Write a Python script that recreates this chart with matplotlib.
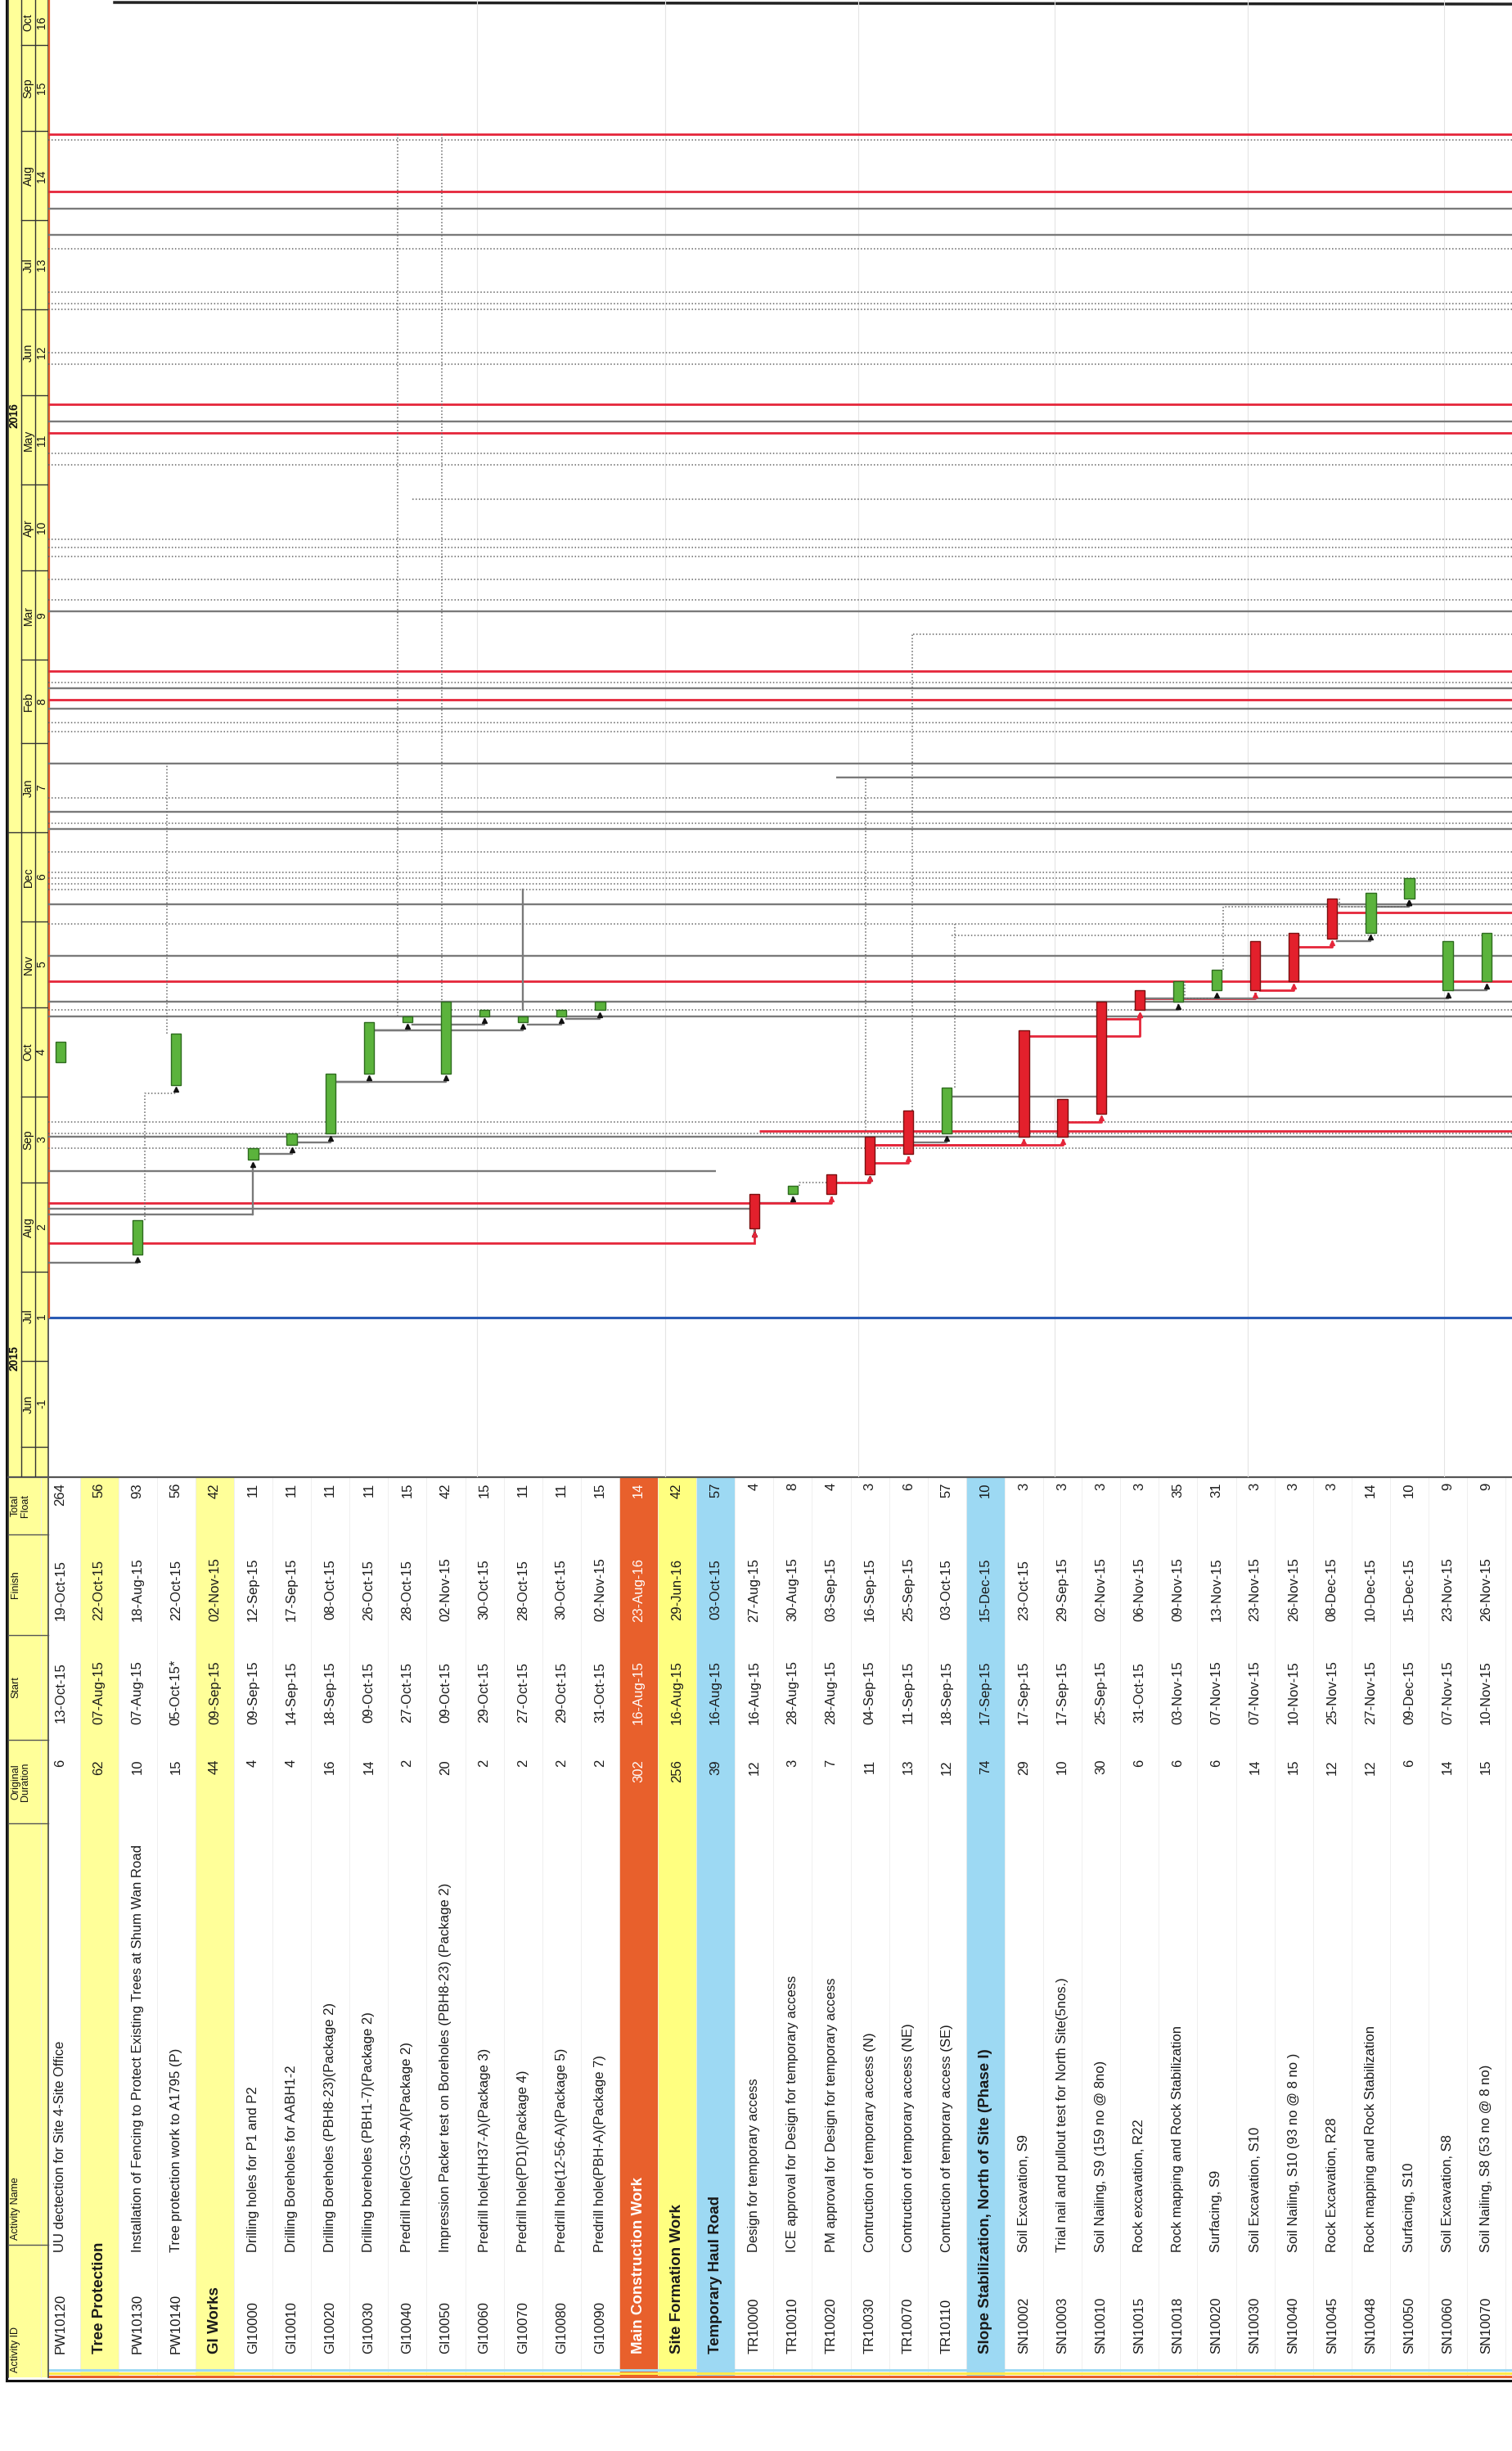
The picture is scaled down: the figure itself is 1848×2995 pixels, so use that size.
import matplotlib.pyplot as plt
import numpy as np
import pandas as pd

plt.rcParams['font.family'] = ['Liberation Sans', 'DejaVu Sans']

# ---------------- activity table (one entry per row, left to right) ----------------
act_id = ['PW10120', 'Tree Protection', 'PW10130', 'PW10140', 'GI Works',
          'GI10000', 'GI10010', 'GI10020', 'GI10030', 'GI10040', 'GI10050',
          'GI10060', 'GI10070', 'GI10080', 'GI10090',
          'Main Construction Work', 'Site Formation Work', 'Temporary Haul Road',
          'TR10000', 'TR10010', 'TR10020', 'TR10030', 'TR10070', 'TR10110',
          'Slope Stabilization, North of Site (Phase I)',
          'SN10002', 'SN10003', 'SN10010', 'SN10015', 'SN10018', 'SN10020',
          'SN10030', 'SN10040', 'SN10045', 'SN10048', 'SN10050', 'SN10060', 'SN10070']
act_name = ['UU dectection for Site 4-Site Office', '',
            'Installation of Fencing to Protect Existing Trees at Shum Wan Road',
            'Tree protection work to A1795 (P)', '',
            'Drilling holes for P1 and P2', 'Drilling Boreholes for AABH1-2',
            'Drilling Boreholes (PBH8-23)(Package 2)', 'Drilling boreholes (PBH1-7)(Package 2)',
            'Predrill hole(GG-39-A)(Package 2)',
            'Impression Packer test on Boreholes (PBH8-23) (Package 2)',
            'Predrill hole(HH37-A)(Package 3)', 'Predrill hole(PD1)(Package 4)',
            'Predrill hole(12-56-A)(Package 5)', 'Predrill hole(PBH-A)(Package 7)',
            '', '', '',
            'Design for temporary access', 'ICE approval for Design for temporary access',
            'PM approval for Design for temporary access', 'Contruction of temporary access (N)',
            'Contruction of temporary access (NE)', 'Contruction of temporary access (SE)',
            '',
            'Soil Excavation, S9', 'Trial nail and pullout test for North Site(5nos.)',
            'Soil Nailing, S9 (159 no @ 8no)', 'Rock excavation, R22',
            'Rock mapping and Rock Stabilization', 'Surfacing, S9', 'Soil Excavation, S10',
            'Soil Nailing, S10 (93 no @ 8 no )', 'Rock Excavation, R28',
            'Rock mapping and Rock Stabilization', 'Surfacing, S10', 'Soil Excavation, S8',
            'Soil Nailing, S8 (53 no @ 8 no)']
orig_dur = [6, 62, 10, 15, 44, 4, 4, 16, 14, 2, 20, 2, 2, 2, 2, 302, 256, 39,
            12, 3, 7, 11, 13, 12, 74, 29, 10, 30, 6, 6, 6, 14, 15, 12, 12, 6, 14, 15]
start = ['13-Oct-15', '07-Aug-15', '07-Aug-15', '05-Oct-15*', '09-Sep-15',
         '09-Sep-15', '14-Sep-15', '18-Sep-15', '09-Oct-15', '27-Oct-15', '09-Oct-15',
         '29-Oct-15', '27-Oct-15', '29-Oct-15', '31-Oct-15',
         '16-Aug-15', '16-Aug-15', '16-Aug-15',
         '16-Aug-15', '28-Aug-15', '28-Aug-15', '04-Sep-15', '11-Sep-15', '18-Sep-15',
         '17-Sep-15',
         '17-Sep-15', '17-Sep-15', '25-Sep-15', '31-Oct-15', '03-Nov-15', '07-Nov-15',
         '07-Nov-15', '10-Nov-15', '25-Nov-15', '27-Nov-15', '09-Dec-15', '07-Nov-15',
         '10-Nov-15']
finish = ['19-Oct-15', '22-Oct-15', '18-Aug-15', '22-Oct-15', '02-Nov-15',
          '12-Sep-15', '17-Sep-15', '08-Oct-15', '26-Oct-15', '28-Oct-15', '02-Nov-15',
          '30-Oct-15', '28-Oct-15', '30-Oct-15', '02-Nov-15',
          '23-Aug-16', '29-Jun-16', '03-Oct-15',
          '27-Aug-15', '30-Aug-15', '03-Sep-15', '16-Sep-15', '25-Sep-15', '03-Oct-15',
          '15-Dec-15',
          '23-Oct-15', '29-Sep-15', '02-Nov-15', '06-Nov-15', '09-Nov-15', '13-Nov-15',
          '23-Nov-15', '26-Nov-15', '08-Dec-15', '10-Dec-15', '15-Dec-15', '23-Nov-15',
          '26-Nov-15']
total_float = [264, 56, 93, 56, 42, 11, 11, 11, 11, 15, 42, 15, 11, 11, 15, 14, 42, 57,
               4, 8, 4, 3, 6, 57, 10, 3, 3, 3, 3, 35, 31, 3, 3, 3, 14, 10, 9, 9]
# WBS band of group rows (None = activity row)
band = [None, 'yellow', None, None, 'yellow'] + [None] * 10 + ['orange', 'lemon', 'blue'] \
       + [None] * 6 + ['blue'] + [None] * 13
critical = [False] * 18 + [True, False, True, True, True, False, False,
                           True, True, True, True, False, False, True, True, True,
                           False, False, False, False]

# relationships shown inside the page: predecessor row, successor row, kind
rel_pred = [2, 5, 6, 7, 7, 8, 8, 9, 12, 13, 18, 18, 19, 20, 21, 21, 21, 22,
            26, 25, 27, 28, 28, 28, 31, 32, 33, 33, 34, 36, 29, 30]
rel_succ = [3, 6, 7, 8, 10, 9, 12, 11, 13, 14, 19, 20, 21, 21, 22, 25, 26, 23,
            27, 28, 28, 29, 31, 36, 32, 33, 34, 35, 35, 37, 30, 35]
rel_kind = ['d', 'g', 'g', 'g', 'g', 'g', 'g', 'g', 'g', 'g', 'g', 'r', 'd', 'r', 'r', 'r', 'r', 'g',
            'r', 'r', 'r', 'g', 'r', 'g', 'r', 'r', 'g', 'd', 'g', 'g', 'd', 'd']

# relationship lines running to / from other pages (date, from row, to row, kind)
tl_date = ['2016-08-31', '2016-08-29', '2016-08-11', '2016-08-05', '2016-07-27',
           '2016-07-22', '2016-07-07', '2016-07-03', '2016-07-01', '2016-06-16',
           '2016-06-12', '2016-05-29', '2016-05-23', '2016-05-19', '2016-05-12',
           '2016-05-08', '2016-04-26', '2016-04-12', '2016-04-09', '2016-04-06',
           '2016-03-29', '2016-03-22', '2016-03-18', '2016-03-10', '2016-02-26',
           '2016-02-22', '2016-02-20', '2016-02-16', '2016-02-13', '2016-02-08',
           '2016-02-05', '2016-01-25', '2016-01-20', '2016-01-13', '2016-01-08',
           '2016-01-04', '2016-01-02', '2015-12-25', '2015-12-18', '2015-12-16',
           '2015-12-14', '2015-12-12', '2015-12-07', '2015-12-04', '2015-11-30',
           '2015-11-26', '2015-11-19', '2015-11-10', '2015-11-03', '2015-10-31',
           '2015-10-29', '2015-10-01', '2015-09-22', '2015-09-19', '2015-09-18',
           '2015-09-17', '2015-09-13', '2015-09-05', '2015-08-25', '2015-08-23',
           '2015-08-21', '2015-08-11', '2015-08-04']
tl_from = [-1, -1, -1, -1, -1, -1, -1, -1, -1, -1,
           -1, -1, -1, -1, -1, -1, 9, -1, -1, -1,
           -1, -1, -1, 22, -1, -1, -1, -1, -1, -1,
           -1, -1, 20, -1, -1, -1, -1, -1, -1, -1,
           -1, -1, -1, 33, -1, 23, -1, -1, -1, -1,
           -1, 23, -1, 18, -1, -1, -1, -1, -1, -1,
           -1, -1, -1]
tl_to = [99] * 57 + [17, 18, 18, 5, 18, 2]
tl_kind = ['r', 'd', 'r', 'g', 'g', 'd', 'd', 'd', 'd', 'd',
           'd', 'r', 'g', 'r', 'd', 'd', 'd', 'd', 'd', 'd',
           'd', 'd', 'g', 'd', 'r', 'd', 'g', 'r', 'g', 'd',
           'd', 'g', 'g', 'd', 'g', 'd', 'g', 'd', 'd', 'd',
           'd', 'd', 'g', 'r', 'd', 'd', 'g', 'r', 'g', 'd',
           'g', 'g', 'd', 'r', 'd', 'g', 'd', 'g', 'r', 'g',
           'g', 'r', 'g']
# vertical connector lines (row position, from date, to date, kind)
vl_row = [8.75, 9.9, 2.75, 20.9, 22.1, 12.0, 23.2]
vl_from = ['2015-10-29', '2015-10-31', '2015-10-23', '2015-09-19', '2015-09-26', '2015-10-31', '2015-10-04']
vl_to = ['2016-08-31', '2016-08-31', '2016-01-25', '2016-01-20', '2016-03-10', '2015-12-12', '2015-11-30']
vl_kind = ['d', 'd', 'd', 'd', 'd', 'g', 'd']

# timescale
month_lbl = ['Jun', 'Jul', 'Aug', 'Sep', 'Oct', 'Nov', 'Dec', 'Jan', 'Feb', 'Mar',
             'Apr', 'May', 'Jun', 'Jul', 'Aug', 'Sep', 'Oct']
month_no = ['-1', '1', '2', '3', '4', '5', '6', '7', '8', '9', '10', '11', '12',
            '13', '14', '15', '16']
year_lbl = ['2015', '2016']
year_pos = ['2015-07-02', '2016-05-25']
data_date = '2015-07-16'

# ---------------- layout (pixels of the 1849 x 2995 sheet) ----------------
W, H = 1849, 2995
GX0 = 59                      # left edge of bars / table body
HX0, HX_Y, HX_M = 10, 26, 43  # header strip columns
TY0, TY1 = 1805, 2905         # table top / bottom
ROW0, ROWDX = 74, 47.1
Y_BASE, PX_DAY = 1768, 3.51   # 1-Jun-15 position and scale
base = pd.Timestamp('2015-06-01')
col_sep = [1875, 1998, 2126, 2228, 2743]

YELLOW = '#FFFF99'
BAND = {'yellow': '#FFFF99', 'lemon': '#FFFF80', 'orange': '#E8602C', 'blue': '#9DD9F3'}
LINE = {'g': dict(color='#7a7a7a', lw=1.7, ls='-'),
        'r': dict(color='#E5263A', lw=2.0, ls='-'),
        'd': dict(color='#666666', lw=1.1, ls=(0, (1, 1.6)))}


def dd(s):
    if '-' in s and s[2] == '-':
        t = pd.to_datetime(s.rstrip('*'), format='%d-%b-%y')
    else:
        t = pd.Timestamp(s)
    return (t - base).days


st = np.array([dd(s) for s in start], dtype=float)
fn = np.array([dd(s) for s in finish], dtype=float) + 1
n = len(act_id)
rows = np.arange(n)
row_px = ROW0 + ROWDX * rows

d_top = Y_BASE / PX_DAY
d_bot = (Y_BASE - TY0) / PX_DAY

fig = plt.figure(figsize=(W / 100, H / 100), dpi=100)

# ---------- table (pixel axes) ----------
ax_t = fig.add_axes([0, 0, 1, 1])
ax_t.set_xlim(0, W)
ax_t.set_ylim(H, 0)
ax_t.axis('off')

for i in rows:
    if band[i]:
        ax_t.add_patch(plt.Rectangle((row_px[i] - ROWDX / 2, TY0), ROWDX, TY1 - TY0,
                                     color=BAND[band[i]], lw=0, zorder=1))
for i in range(n + 1):
    xb = ROW0 + ROWDX * (i - 0.5)
    ax_t.plot([xb, xb], [TY0, TY1], color='#ececec', lw=0.6, zorder=1.5)

# hierarchy stripes at the foot of the table
for yy, c in zip([2896, 2900, 2904], ['#9DD9F3', '#FFE94A', '#E8602C']):
    ax_t.plot([GX0, W], [yy, yy], color=c, lw=2.2, zorder=2, solid_capstyle='butt')
ax_t.plot([8, W], [2909, 2909], color='#111111', lw=2.2, zorder=3)
ax_t.plot([8, 8], [0, 2909], color='#111111', lw=2.2, zorder=3)
ax_t.plot([140, W], [3, 5], color='#222222', lw=2.5, zorder=3)

# header strip
ax_t.add_patch(plt.Rectangle((HX0, 0), GX0 - HX0, TY1, color=YELLOW, lw=0, zorder=1))
ax_t.plot([HX0, HX0], [0, TY1], color='#333333', lw=1.2, zorder=3)
ax_t.plot([GX0, GX0], [0, TY1], color='#444444', lw=1.2, zorder=3)
ax_t.plot([HX0, W], [TY0, TY0], color='#555555', lw=1.6, zorder=3)
for yy in col_sep:
    ax_t.plot([HX0, GX0], [yy, yy], color='#555555', lw=1.0, zorder=3)

hdr = dict(rotation=90, rotation_mode='anchor', fontsize=9, color='#111111', zorder=4)
ax_t.text(13, 1840, 'Total\nFloat', ha='center', va='top', linespacing=0.95, **hdr)
ax_t.text(13, (col_sep[0] + col_sep[1]) / 2, 'Finish', ha='center', va='top', **hdr)
ax_t.text(13, (col_sep[1] + col_sep[2]) / 2, 'Start', ha='center', va='top', **hdr)
ax_t.text(13, (col_sep[2] + col_sep[3]) / 2, 'Original\nDuration', ha='center', va='top',
          linespacing=0.95, **hdr)
ax_t.text(13, col_sep[4] - 6, 'Activity Name', ha='left', va='top', **hdr)
ax_t.text(13, TY1 - 6, 'Activity ID', ha='left', va='top', **hdr)

cell = dict(rotation=90, rotation_mode='anchor', fontsize=12, va='center', zorder=4)
for i in rows:
    x = row_px[i]
    grp = band[i] is not None
    tc = 'white' if band[i] == 'orange' else '#1a1a1a'
    ax_t.text(x, 1812, str(total_float[i]), ha='right', color=tc, **cell)
    ax_t.text(x, (col_sep[0] + col_sep[1]) / 2 + 6, finish[i], ha='center', color=tc, **cell)
    ax_t.text(x, (col_sep[1] + col_sep[2]) / 2 + 6, start[i], ha='center', color=tc, **cell)
    ax_t.text(x, 2150, str(orig_dur[i]), ha='right', color=tc, **cell)
    if grp:
        ax_t.text(x, 2876, act_id[i], ha='left', color=tc, fontweight='bold',
                  rotation=90, rotation_mode='anchor', fontsize=13.5, va='center', zorder=4)
    else:
        ax_t.text(x, 2876, act_id[i], ha='left', color=tc, **cell)
        ax_t.text(x, 2752, act_name[i], ha='left', color=tc, **cell)

# ---------- timescale header ----------
ax_h = fig.add_axes([HX0 / W, 1 - TY0 / H, (GX0 - HX0) / W, TY0 / H])
ax_h.set_xlim(HX0, GX0)
ax_h.set_ylim(d_bot, d_top)
ax_h.axis('off')
ax_h.patch.set_alpha(0)
mstarts = pd.date_range('2015-06-01', periods=len(month_lbl) + 1, freq='MS')
mdays = np.array([(m - base).days for m in mstarts], dtype=float)
for d in mdays:
    ax_h.plot([HX_Y, GX0], [d, d], color='#333333', lw=1.0)
ax_h.plot([HX_Y, HX_Y], [d_bot, d_top], color='#333333', lw=1.0)
ax_h.plot([HX_M, HX_M], [d_bot, d_top], color='#333333', lw=1.0)
jan = (pd.Timestamp('2016-01-01') - base).days
ax_h.plot([HX0, HX_Y], [jan, jan], color='#333333', lw=1.0)
for k in range(len(month_lbl)):
    c = (max(mdays[k], d_bot) + min(mdays[k + 1], d_top)) / 2
    ax_h.text((HX_Y + HX_M) / 2, c, month_lbl[k], rotation=90, ha='center', va='center',
              fontsize=10, color='#111111')
    ax_h.text((HX_M + GX0) / 2, c, month_no[k], rotation=90, ha='center', va='center',
              fontsize=10, color='#111111')
for lbl, pos in zip(year_lbl, year_pos):
    ax_h.text((HX0 + HX_Y) / 2, dd(pos), lbl, rotation=90, ha='center', va='center',
              fontsize=10, fontweight='bold', color='#111111')

# ---------- gantt ----------
ax_g = fig.add_axes([GX0 / W, 1 - TY0 / H, (W - GX0) / W, TY0 / H])
ax_g.set_xlim((GX0 - ROW0) / ROWDX, (W - ROW0) / ROWDX)
ax_g.set_ylim(d_bot, d_top)
ax_g.axis('off')
ax_g.patch.set_alpha(0)
x_lo, x_hi = ax_g.get_xlim()

for k in (10.8, 15.7, 20.7, 25.8, 30.8, 35.9):
    ax_g.plot([k, k], [d_bot, d_top], color='#e4e4e4', lw=0.8, zorder=0)

dd_line = dd(data_date)
ax_g.plot([x_lo, x_hi], [dd_line, dd_line], color='#2B5BB5', lw=2.2, zorder=2)
ax_g.plot([x_lo + 0.02, x_lo + 0.02], [dd_line, d_top], color='#E8602C', lw=1.6, zorder=2)

for t, f, to, kind in zip(tl_date, tl_from, tl_to, tl_kind):
    y = dd(t)
    x0 = x_lo if f < 0 else f + 0.13
    x1 = x_hi if to > 90 else to
    ax_g.plot([x0, x1], [y, y], zorder=2, solid_capstyle='butt', **LINE[kind])
    if to < 90 and band[to] is None:
        ax_g.plot([x1, x1], [y, st[to] - 1.5], zorder=2, **LINE[kind])
        ax_g.plot(x1, st[to] - 1.8, marker='^', ms=5,
                  color='#E5263A' if kind == 'r' else '#111111', zorder=4)

for r, a, b, kind in zip(vl_row, vl_from, vl_to, vl_kind):
    ax_g.plot([r, r], [dd(a), dd(b)], zorder=2, **LINE[kind])

for p, s, kind in zip(rel_pred, rel_succ, rel_kind):
    y_line = min(fn[p] - 2, st[s] - 3)
    pts_x = [p + 0.13, s, s]
    pts_y = [y_line, y_line, st[s] - 1.2]
    if kind == 'd':
        y_up = st[s] - 3
        pts_x = [p + 0.18, p + 0.18, s, s]
        pts_y = [fn[p], y_up, y_up, st[s] - 1.2]
    ax_g.plot(pts_x, pts_y, zorder=3, **LINE[kind])
    ax_g.plot(s, st[s] - 1.6, marker='^', ms=5,
              color='#E5263A' if kind == 'r' else '#111111', zorder=4)

act = np.array([b is None for b in band])
crit = np.array(critical)
ax_g.bar(rows[act & ~crit], (fn - st)[act & ~crit], bottom=st[act & ~crit], width=0.26,
         color='#5BB33C', edgecolor='#2E6B1F', linewidth=1.0, zorder=5)
ax_g.bar(rows[act & crit], (fn - st)[act & crit], bottom=st[act & crit], width=0.26,
         color='#E3202C', edgecolor='#7A1010', linewidth=1.0, zorder=5)

fig.savefig('out.png', dpi=100, facecolor='white')
